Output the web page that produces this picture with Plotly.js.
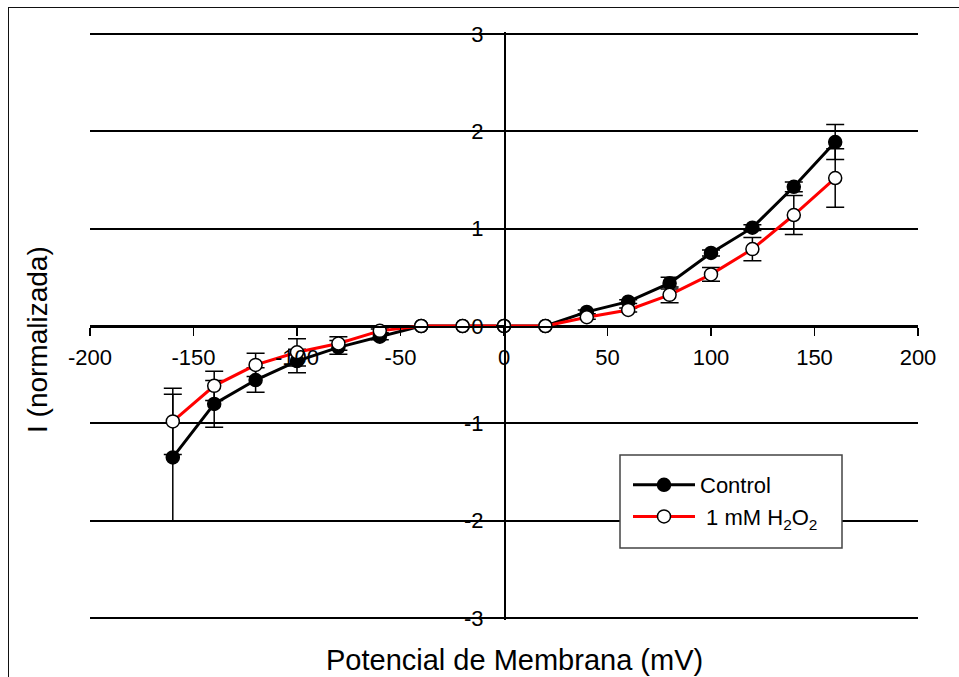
<!DOCTYPE html>
<html>
<head>
<meta charset="utf-8">
<script src="https://cdn.plot.ly/plotly-3.0.1.min.js"></script>
<style>
  html, body { margin: 0; padding: 0; background: #fff; }
  #wrap { position: relative; width: 959px; height: 677px; overflow: hidden; }
  #chart { position: absolute; left: 0; top: 0; width: 959px; height: 677px; }
  #frame { position: absolute; left: 8px; top: 7px; width: 1000px; height: 1000px;
           border-left: 1.5px solid #111; border-top: 1.5px solid #111; pointer-events: none; }
</style>
</head>
<body>
<div id="wrap"><div id="chart"></div><div id="frame"></div></div>
<script>
// Membrane potential (mV)
const potential = [-160, -140, -120, -100, -80, -60, -40, -20, 0, 20, 40, 60, 80, 100, 120, 140, 160];
// Control: normalized current and error
const controlI   = [-1.35, -0.80, -0.555, -0.36, -0.22, -0.11, 0, 0, 0, 0, 0.145, 0.25, 0.44, 0.75, 1.01, 1.43, 1.89];
const controlErr = [0.65, 0.24, 0.125, 0.12, 0.07, 0.03, null, null, null, null, 0.02, 0.02, 0.06, 0.03, 0.03, 0.05, 0.18];
// 1 mM H2O2: normalized current and error
const h2o2I   = [-0.98, -0.615, -0.40, -0.27, -0.18, -0.05, 0, 0, 0, 0, 0.09, 0.165, 0.32, 0.53, 0.79, 1.14, 1.52];
const h2o2Err = [0.34, 0.15, 0.12, 0.14, 0.07, 0.02, null, null, null, null, 0.02, 0.02, 0.08, 0.07, 0.12, 0.20, 0.30];

const xTickVals = [-200, -150, -100, -50, 0, 50, 100, 150, 200];
const yTickVals = [-3, -2, -1, 0, 1, 2, 3];

const FONT = '"Liberation Sans", Arial, Helvetica, sans-serif';

const traces = [
  {
    x: potential, y: controlI, name: 'Control', type: 'scatter', mode: 'lines+markers',
    line: { color: '#000000', width: 3 },
    marker: { size: 13, color: '#000000', line: { color: '#000000', width: 1.5 } },
    error_y: { type: 'data', array: controlErr, visible: true, color: '#000000', thickness: 1.5, width: 9 },
    legendgroup: 'a'
  },
  {
    x: potential, y: h2o2I, name: '\u00a01 mM H<sub>2</sub>O<sub>2</sub>', type: 'scatter', mode: 'lines+markers',
    line: { color: '#ff0000', width: 3 },
    marker: { size: 13, color: '#ffffff', line: { color: '#000000', width: 1.5 } },
    error_y: { type: 'data', array: h2o2Err, visible: true, color: '#000000', thickness: 1.5, width: 9 },
    legendgroup: 'b'
  }
];

// plot area: x 90..918, y 32..620 (range padded slightly so edge gridlines are drawn)
const pxX = v => (v - 90) / 828;
const pxY = v => (620 - v) / 588;

const layout = {
  width: 959, height: 677,
  margin: { l: 90, r: 41, t: 32, b: 57, pad: 0 },
  paper_bgcolor: 'rgba(0,0,0,0)', plot_bgcolor: 'rgba(0,0,0,0)',
  font: { family: FONT, color: '#000', size: 22 },
  showlegend: true,
  legend: {
    x: pxX(628), y: pxY(464), xanchor: 'left', yanchor: 'top',
    bgcolor: 'rgba(0,0,0,0)', borderwidth: 0,
    itemwidth: 62,
    font: { family: FONT, size: 22, color: '#000' },
    tracegroupgap: 0
  },
  xaxis: {
    range: [-200, 200], tickvals: xTickVals, ticktext: xTickVals.map(String),
    anchor: 'free', position: 0.5,
    showline: true, linecolor: '#000', linewidth: 1.5,
    ticks: 'outside', ticklen: 8, tickwidth: 1.5, tickcolor: '#000',
    showgrid: false, zeroline: false,
    ticklabelstandoff: 3,
    tickfont: { family: FONT, size: 22, color: '#000' }
  },
  yaxis: {
    range: [-3.02, 3.02], tickvals: yTickVals, ticktext: yTickVals.map(String),
    anchor: 'free', position: 0.5,
    showline: true, linecolor: '#000', linewidth: 1.5,
    ticks: 'outside', ticklen: 8, tickwidth: 1.5, tickcolor: '#000',
    showgrid: true, gridcolor: '#000', gridwidth: 2, zeroline: false,
    ticklabelstandoff: 8,
    tickfont: { family: FONT, size: 22, color: '#000' }
  },
  shapes: [
    { type: 'rect', xref: 'paper', yref: 'paper', layer: 'above',
      x0: pxX(620), x1: pxX(842), y0: pxY(548), y1: pxY(455),
      fillcolor: '#ffffff', line: { color: '#444', width: 1.5 } }
  ],
  annotations: [
    { text: 'Potencial de Membrana (mV)', xref: 'paper', yref: 'paper',
      x: pxX(514), y: pxY(660), xanchor: 'center', yanchor: 'middle', showarrow: false,
      font: { family: FONT, size: 29, color: '#000' } },
    { text: 'I (normalizada)', xref: 'paper', yref: 'paper', textangle: -90,
      x: pxX(37), y: pxY(339), xanchor: 'center', yanchor: 'middle', showarrow: false,
      font: { family: FONT, size: 28, color: '#000' } }
  ]
};

Plotly.newPlot('chart', traces, layout, { staticPlot: true, displayModeBar: false });
</script>
</body>
</html>
